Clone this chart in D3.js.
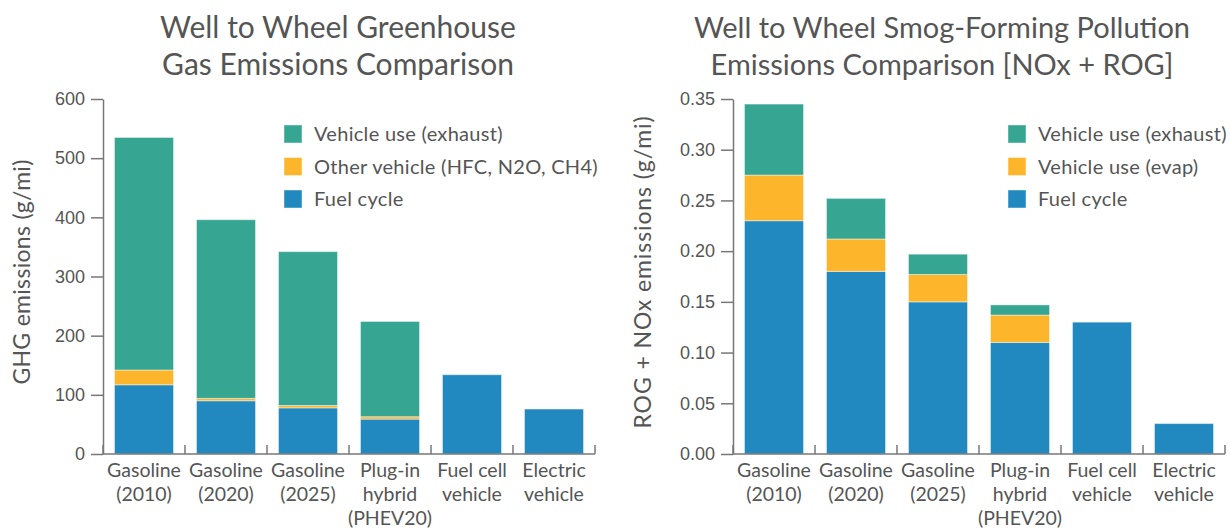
<!DOCTYPE html>
<html>
<head>
<meta charset="utf-8">
<script src="https://cdn.jsdelivr.net/npm/d3@7"></script>
<style>
  body { margin: 0; background: #fff; }
  svg { display: block; font-family: Lato, "Open Sans", sans-serif; }
  .axis path, .axis line { stroke: #777; stroke-width: 1.5; }
  .axis text { fill: #555; }
</style>
</head>
<body>
<svg id="chart" width="1230" height="529"></svg>
<script>
// categories shared by both panels
let categories = [
    ["Gasoline", "(2010)"],
    ["Gasoline", "(2020)"],
    ["Gasoline", "(2025)"],
    ["Plug-in", "hybrid", "(PHEV20)"],
    ["Fuel cell", "vehicle"],
    ["Electric", "vehicle"]
]

// greenhouse gas, g/mi
let ghgFuel = [117, 90, 78, 59, 134, 76]
let ghgOther = [25, 4, 4, 4, 0, 0]
let ghgExhaust = [393, 302, 260, 161, 0, 0]
let ghgTicks = [0, 100, 200, 300, 400, 500, 600]

// smog forming NOx + ROG, g/mi
let smogFuel = [0.23, 0.18, 0.15, 0.11, 0.13, 0.03]
let smogEvap = [0.045, 0.032, 0.027, 0.027, 0, 0]
let smogExhaust = [0.07, 0.04, 0.02, 0.01, 0, 0]
let smogTicks = [0, 0.05, 0.10, 0.15, 0.20, 0.25, 0.30, 0.35]

let teal = "#36a592"
let orange = "#fdb52b"
let blue = "#2189c0"

let svg = d3.select("#chart")

function drawPanel(opt) {
    let g = svg.append("g")

    let x = d3.scaleBand()
        .domain(d3.range(categories.length))
        .range([opt.left, opt.left + 492])
        .paddingInner(0.28)
        .paddingOuter(0.14)

    let y = d3.scaleLinear()
        .domain([0, opt.max])
        .range([454, 99])

    let rows = categories.map((c, i) => ({
        i: i,
        fuel: opt.fuel[i],
        mid: opt.mid[i],
        exhaust: opt.exhaust[i]
    }))
    let keys = ["fuel", "mid", "exhaust"]
    let colors = {fuel: blue, mid: orange, exhaust: teal}
    let series = d3.stack().keys(keys)(rows)

    g.selectAll("g.layer")
        .data(series)
        .enter()
        .append("g")
        .attr("class", "layer")
        .attr("fill", d => colors[d.key])
        .selectAll("rect")
        .data(d => d.filter(p => p[1] - p[0] > 0))
        .enter()
        .append("rect")
        .attr("x", d => x(d.data.i))
        .attr("width", x.bandwidth())
        .attr("y", d => y(d[1]))
        .attr("height", d => y(d[0]) - y(d[1]))
        .attr("stroke", "rgba(255,255,255,0.45)")
        .attr("stroke-width", 1)

    // y axis
    let yAxis = g.append("g")
        .attr("class", "axis")
        .attr("transform", `translate(${opt.left},0)`)
        .call(d3.axisLeft(y).tickValues(opt.ticks).tickFormat(opt.format)
            .tickSize(12).tickSizeOuter(0).tickPadding(6))
    yAxis.selectAll("text").style("font-size", "18px")

    // x axis: line with upward ticks on band edges
    let edges = d3.range(categories.length + 1).map(i => opt.left + i * x.step())
    let xAxis = g.append("g").attr("class", "axis")
    xAxis.append("path")
        .attr("d", `M${opt.left},454H${opt.left + 492}`)
        .attr("fill", "none")
    xAxis.selectAll("line")
        .data(edges)
        .enter()
        .append("line")
        .attr("x1", d => d).attr("x2", d => d)
        .attr("y1", 454).attr("y2", 445)

    let labels = xAxis.selectAll("text.cat")
        .data(categories)
        .enter()
        .append("text")
        .attr("class", "cat")
        .attr("text-anchor", "middle")
        .style("font-size", "19.5px")
    labels.selectAll("tspan")
        .data((d, i) => d.map(line => ({line: line, i: i})))
        .enter()
        .append("tspan")
        .attr("x", d => x(d.i) + x.bandwidth() / 2)
        .attr("y", (d, j) => 477 + j * 24)
        .text(d => d.line)

    // y label
    g.append("text")
        .attr("transform", `translate(${opt.labelX},${opt.labelY}) rotate(-90)`)
        .attr("text-anchor", "middle")
        .attr("fill", "#555")
        .style("font-size", "23px")
        .style("letter-spacing", opt.labelSpacing)
        .text(opt.yLabel)

    // title
    g.append("text")
        .attr("text-anchor", "middle")
        .attr("fill", "#555")
        .style("font-size", opt.titleSize)
        .selectAll("tspan")
        .data(opt.title)
        .enter()
        .append("tspan")
        .attr("x", opt.titleX)
        .attr("y", (d, i) => 38 + i * 37)
        .text(d => d)

    // legend
    let leg = g.append("g")
        .selectAll("g")
        .data(opt.legend)
        .enter()
        .append("g")
        .attr("transform", (d, i) => `translate(${opt.legendX},${134 + i * 32.5})`)
    leg.append("rect")
        .attr("x", 0).attr("y", -9)
        .attr("width", 18).attr("height", 18)
        .attr("fill", d => d[1])
        .attr("stroke", "rgba(255,255,255,0.45)")
    leg.append("text")
        .attr("x", 30)
        .attr("y", 7)
        .attr("fill", "#555")
        .style("font-size", "20px")
        .style("letter-spacing", "0.3px")
        .text(d => d[0])
}

drawPanel({
    left: 103,
    max: 600,
    fuel: ghgFuel,
    mid: ghgOther,
    exhaust: ghgExhaust,
    ticks: ghgTicks,
    format: d3.format("d"),
    yLabel: "GHG emissions (g/mi)",
    labelX: 30,
    labelY: 272,
    labelSpacing: "0.3px",
    title: ["Well to Wheel Greenhouse", "Gas Emissions Comparison"],
    titleX: 338,
    titleSize: "30px",
    legendX: 284,
    legend: [["Vehicle use (exhaust)", teal], ["Other vehicle (HFC, N2O, CH4)", orange], ["Fuel cycle", blue]]
})

drawPanel({
    left: 733,
    max: 0.35,
    fuel: smogFuel,
    mid: smogEvap,
    exhaust: smogExhaust,
    ticks: smogTicks,
    format: d3.format(".2f"),
    yLabel: "ROG + NOx emissions (g/mi)",
    labelX: 651,
    labelY: 272,
    labelSpacing: "0.9px",
    title: ["Well to Wheel Smog-Forming Pollution", "Emissions Comparison [NOx + ROG]"],
    titleX: 942,
    titleSize: "29px",
    legendX: 1008,
    legend: [["Vehicle use (exhaust)", teal], ["Vehicle use (evap)", orange], ["Fuel cycle", blue]]
})
</script>
</body>
</html>
